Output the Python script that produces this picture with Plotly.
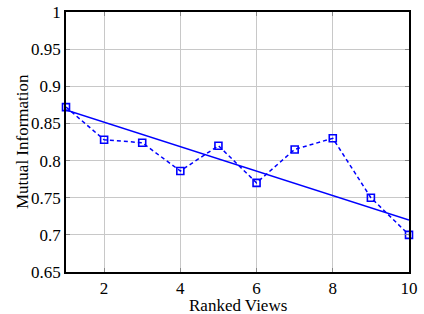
import plotly.graph_objects as go

views = [1, 2, 3, 4, 5, 6, 7, 8, 9, 10]
mutual_info = [0.872, 0.828, 0.824, 0.786, 0.820, 0.770, 0.815, 0.830, 0.750, 0.700]
trend_x = [1, 10]
trend_y = [0.868, 0.720]
x_ticks = [2, 4, 6, 8, 10]
y_ticks = [0.65, 0.7, 0.75, 0.8, 0.85, 0.9, 0.95, 1.0]
y_tick_text = ["0.65", "0.7", "0.75", "0.8", "0.85", "0.9", "0.95", "1"]
x_title = "Ranked Views"
y_title = "Mutual Information"

blue = "#0000ff"
fnt = dict(family='"Liberation Serif", "DejaVu Serif", serif', size=17, color="black")

fig = go.Figure()
fig.add_trace(go.Scatter(
    x=views, y=mutual_info, mode="lines+markers",
    line=dict(color=blue, width=1.5, dash="4px,3px"),
    marker=dict(symbol="square-open", size=7, color=blue, line=dict(width=1.6, color=blue)),
    showlegend=False, cliponaxis=False,
))
fig.add_trace(go.Scatter(
    x=trend_x, y=trend_y, mode="lines",
    line=dict(color=blue, width=1.5), showlegend=False,
))

axis_common = dict(
    showline=True, linecolor="black", linewidth=1.5, mirror="ticks",
    ticks="inside", ticklen=4, tickcolor="#888888", tickwidth=1,
    showgrid=True, gridcolor="#c8c8c8", gridwidth=1, zeroline=False,
    tickfont=fnt, automargin=False, ticklabeloverflow="allow",
)
fig.update_xaxes(range=[1, 10], tickvals=x_ticks, **axis_common)
fig.update_yaxes(range=[0.65, 1.0], tickvals=y_ticks, ticktext=y_tick_text, **axis_common)

fig.add_annotation(text=x_title, xref="paper", yref="paper", x=0.5, y=0,
                   xanchor="center", yanchor="top", yshift=-22, showarrow=False, font=fnt)
fig.add_annotation(text=y_title, xref="paper", yref="paper", x=0, y=0.5,
                   xanchor="center", yanchor="middle", xshift=-44, textangle=-90,
                   showarrow=False, font=fnt)

fig.update_layout(
    width=424, height=314,
    margin=dict(l=66, r=15, t=12, b=42, autoexpand=False),
    paper_bgcolor="white", plot_bgcolor="white",
    font=fnt,
)
fig.write_html("out.html", config={"displayModeBar": False},
               post_script="document.body.style.margin='0';")
